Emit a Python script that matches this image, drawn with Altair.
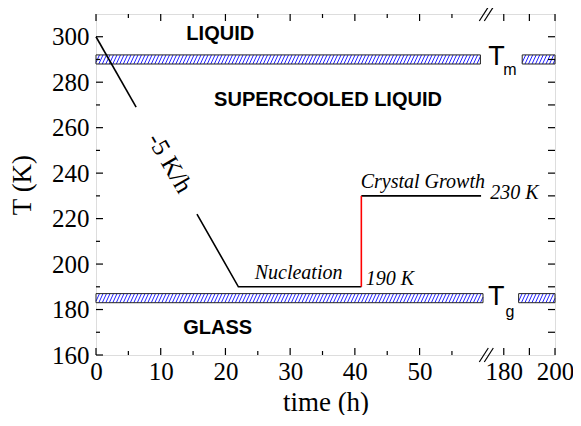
import altair as alt
import pandas as pd

# ---------------- data ----------------
# broken time axis: 0..60 | 172.4..200
W, H = 459, 341
x_domain = [0, 60, 172.4, 200]
x_range = [0, 388.3, 388.3, W]

cool1_t = [0, 6.2]
cool1_T = [300, 269]
cool2_t = [15.6, 22, 41]
cool2_T = [222, 190, 190]
jump_t = [41, 41]
jump_T = [190, 230]
grow_t = [41, 59.5]
grow_T = [230, 230]

band_x0 = [0, 187.2, 0, 185.8]
band_x1 = [59.4, 200, 59.8, 200]
band_y0 = [288, 288, 183, 183]
band_y1 = [292, 292, 187, 187]
band_k = [6.47, 2.56, 6.47, 2.56]  # px per hour in each axis piece

x_labels = [0, 10, 20, 30, 40, 50, 180, 200]
x_major = [0, 10, 20, 30, 40, 50, 180, 190, 200]
x_minor = [5, 15, 25, 35, 45, 55]
y_labels = [160, 180, 200, 220, 240, 260, 280, 300]
y_minor = [170, 190, 210, 230, 250, 270, 290]
y_right = [170, 180, 190, 200, 210, 220, 230, 240, 250, 260, 270, 280, 290, 300]
x_break = [60]

region_text = ["LIQUID", "SUPERCOOLED LIQUID", "GLASS"]
region_x = [19.2, 35.85, 18.8]
region_y = [301.3, 272.2, 171.7]

ital_text = ["Nucleation", "Crystal Growth"]
ital_x = [31.3, 50.5]
ital_y = [193.5, 233.3]

val_text = ["190 K", "230 K"]
val_x = [41.7, 174.7]
val_y = [190.8, 228.6]

T_text = ["T", "T"]
T_x = [173.9, 173.8]
T_y = [287.6, 182.0]
sub_text = ["m", "g"]
sub_x = [179.8, 180.7]
sub_y = [283.2, 176.8]

rate_text = ["-5 K/h"]
rate_x = [11.4]
rate_y = [244.5]

# ---------------- helpers ----------------
xs = alt.Scale(domain=x_domain, range=x_range, nice=False, zero=False)
ys = alt.Scale(domain=[160, 310], nice=False, zero=False)
SERIF = "Liberation Serif"
SANS = "Liberation Sans"
xaxis = alt.Axis(values=x_labels, ticks=False, domain=False, grid=False,
                 labelFont=SERIF, labelFontSize=25, labelColor="black",
                 labelPadding=4, labelFlush=False, labelOverlap=False,
                 title="time (h)", titleFont=SERIF, titleFontSize=27,
                 titleFontWeight="normal", titleColor="black", titlePadding=5)
yaxis = alt.Axis(values=y_labels, ticks=False, domain=False, grid=False,
                 labelFont=SERIF, labelFontSize=25, labelColor="black",
                 labelPadding=7, labelFlush=False, labelOverlap=False,
                 title="T (K)", titleFont=SERIF, titleFontSize=27,
                 titleFontWeight="normal", titleColor="black", titlePadding=15)


def X(f):
    return alt.X(f, type="quantitative", scale=xs, axis=xaxis)


def Y(f):
    return alt.Y(f, type="quantitative", scale=ys, axis=yaxis)


# bands
bands = pd.DataFrame({"x0": band_x0, "x1": band_x1, "y0": band_y0, "y1": band_y1})

rows = []
for x0, x1, y0, y1, k in zip(band_x0, band_x1, band_y0, band_y1, band_k):
    dx = 4.2 / k
    sp = 3.5 / k
    s = x0 - dx
    while s < x1:
        a = max(s, x0)
        b = min(s + dx, x1)
        if b > a:
            rows.append({"a": a, "b": b,
                         "ya": y0 + (a - s) / dx * (y1 - y0),
                         "yb": y0 + (b - s) / dx * (y1 - y0)})
        s += sp
hatch_df = pd.DataFrame(rows)

band_fill = alt.Chart(bands).mark_rect(fill="white", strokeWidth=0).encode(
    x=X("x0"), x2="x1", y=Y("y0"), y2="y1")
hatch = alt.Chart(hatch_df).mark_rule(color="#1f1fff", strokeWidth=1).encode(
    x=X("a"), x2="b", y=Y("ya"), y2="yb")
band_outline = alt.Chart(bands).mark_rect(fill=None, fillOpacity=0, stroke="#222222", strokeWidth=1).encode(
    x=X("x0"), x2="x1", y=Y("y0"), y2="y1")


def line(t, T, color):
    return alt.Chart(pd.DataFrame({"t": t, "T": T})).mark_line(
        color=color, strokeWidth=1.6).encode(x=X("t"), y=Y("T"), order=alt.Order("t:Q"))


l1 = line(cool1_t, cool1_T, "black")
l2 = line(cool2_t, cool2_T, "black")
l3 = line(grow_t, grow_T, "black")
l4 = alt.Chart(pd.DataFrame({"t": jump_t, "T": jump_T})).mark_line(
    color="#ff0000", strokeWidth=1.6).encode(x=X("t"), y=Y("T"), order=alt.Order("T:Q"))

# ticks (inward)
def tick_layer(vals, orient, length):
    d = pd.DataFrame({"v": vals})
    m = alt.Chart(d).mark_rule(color="black", strokeWidth=1.2)
    if orient == "bottom":
        return m.encode(x=X("v"), y=alt.value(H), y2=alt.value(H - length))
    if orient == "top":
        return m.encode(x=X("v"), y=alt.value(0), y2=alt.value(length))
    if orient == "left":
        return m.encode(y=Y("v"), x=alt.value(0), x2=alt.value(length))
    return m.encode(y=Y("v"), x=alt.value(W), x2=alt.value(W - length))


ticks = [
    tick_layer(x_major, "bottom", 7), tick_layer(x_minor, "bottom", 4),
    tick_layer(x_major, "top", 7), tick_layer(x_minor, "top", 4),
    tick_layer(y_labels, "left", 7), tick_layer(y_minor, "left", 4),
    tick_layer(y_right, "right", 7),
]

# axis break marks
brk = pd.DataFrame({"v": x_break})
breaks = []
for off in (0, 5):
    for yb, yt in ((H + 7, H - 7), (7, -7)):
        breaks.append(alt.Chart(brk).mark_rule(
            color="black", strokeWidth=1.2, xOffset=-5 + off, x2Offset=4 + off).encode(
            x=X("v"), x2="v", y=alt.value(yb), y2=alt.value(yt)))


def text_layer(txt, xv, yv, **kw):
    d = pd.DataFrame({"s": txt, "x": xv, "y": yv})
    return alt.Chart(d).mark_text(color="black", **kw).encode(x=X("x"), y=Y("y"), text="s:N")


regions = text_layer(region_text, region_x, region_y, font=SANS, fontSize=20,
                     fontWeight="bold", align="center", baseline="middle")
itals = text_layer(ital_text, ital_x, ital_y, font=SERIF, fontSize=20,
                   fontStyle="italic", align="center", baseline="alphabetic")
vals = text_layer(val_text, val_x, val_y, font=SERIF, fontSize=20,
                  fontStyle="italic", align="left", baseline="alphabetic")
Ts = text_layer(T_text, T_x, T_y, font=SANS, fontSize=27, align="left", baseline="alphabetic")
subs = text_layer(sub_text, sub_x, sub_y, font=SANS, fontSize=16, align="left", baseline="alphabetic")
rate = text_layer(rate_text, rate_x, rate_y, font=SERIF, fontSize=25, angle=60,
                  align="center", baseline="middle")

chart = alt.layer(
    band_fill, hatch, band_outline, l1, l2, l3, l4, *ticks, *breaks,
    regions, itals, vals, Ts, subs, rate
).properties(
    width=W, height=H,
    autosize=alt.AutoSizeParams(type="none"),
    padding={"left": 88, "top": 6, "right": 18, "bottom": 60},
).configure_view(stroke="black", strokeWidth=1.5).configure(background="white")

chart.save("out.html", embed_options={"renderer": "svg", "actions": False})
